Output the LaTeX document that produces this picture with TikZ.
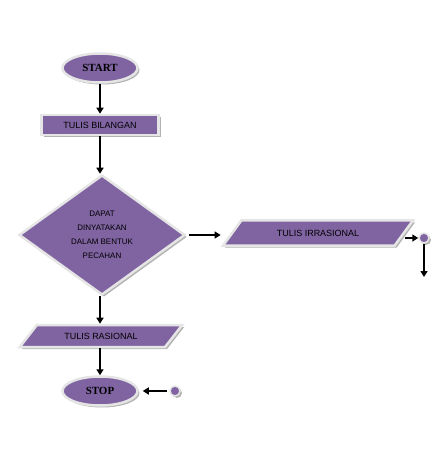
\documentclass[tikz,border=0pt]{standalone}
\usepackage{fontspec}
\setmainfont{Liberation Serif}
\newfontfamily\flowsans{Liberation Sans}
\usetikzlibrary{shapes.geometric,arrows.meta,shadows}
\definecolor{ungu}{RGB}{128,100,162}

\begin{document}
\begin{tikzpicture}
      [x=1bp,y=-1bp,%%%%%%%%%%%%%%%%%%%%%%%%%%%%%%
      blok/.style={fill=ungu,draw=black!10,line width=2.5bp,inner sep=0pt,
        drop shadow={shadow xshift=2bp,shadow yshift=-2bp,fill=black!60}},
      terminal/.style={blok,ellipse,minimum width=75bp,minimum height=29bp,
        font=\bfseries\fontsize{11}{13}\selectfont},
      proses/.style={blok,rectangle,minimum width=117bp,minimum height=20bp,
        font=\flowsans\fontsize{9}{11}\selectfont},
      keputusan/.style={blok,diamond,minimum width=166bp,minimum height=120bp,
        align=center,font=\flowsans\fontsize{8}{14}\selectfont},
      io/.style={blok,trapezium,trapezium stretches=true,
        trapezium left angle=33,trapezium right angle=147,
        font=\flowsans\fontsize{9}{11}\selectfont},
      konektor/.style={blok,circle,minimum size=10bp,line width=1.5bp},
      panah/.style={-{Triangle[length=6bp,width=7bp]},line width=2bp,black},
      ]%%%%%%%%%%%%%%%%%%%%%%%%%%%%%%
      \useasboundingbox (0,0) rectangle (439,462);

      \node[terminal] (start) at (100,68) {START};
      \node[proses] (tulisbil) at (100,125) {TULIS BILANGAN};
      \node[keputusan] (cek) at (102,235) {DAPAT\\DINYATAKAN\\DALAM BENTUK\\PECAHAN};
      \node[io,minimum width=190bp,minimum height=25bp] (irr) at (318,233) {TULIS IRRASIONAL};
      \node[io,minimum width=163bp,minimum height=22bp] (ras) at (101,336) {TULIS RASIONAL};
      \node[terminal] (stop) at (100,391) {STOP};
      \node[konektor] (sambung1) at (424,238) {};
      \node[konektor] (sambung2) at (175,391) {};
      \coordinate (akhir1) at (424,277);

      % alur utama
      \draw[panah] (start) -- (tulisbil);
      \draw[panah] (tulisbil) -- (tulisbil |- cek.north);
      \draw[panah] (tulisbil |- cek.south) -- (tulisbil |- ras.north);
      \draw[panah] (tulisbil |- ras.south) -- (stop);
      % cabang irrasional
      \draw[panah,shorten <=3bp] (cek.east) -- (irr.bottom left corner |- cek.east);
      \draw[panah] (irr.east |- sambung1) -- (sambung1);
      \draw[panah] (sambung1) -- (akhir1);
      \draw[panah,shorten <=2bp,shorten >=4bp] (sambung2) -- (stop);
    \end{tikzpicture}
\end{document}
